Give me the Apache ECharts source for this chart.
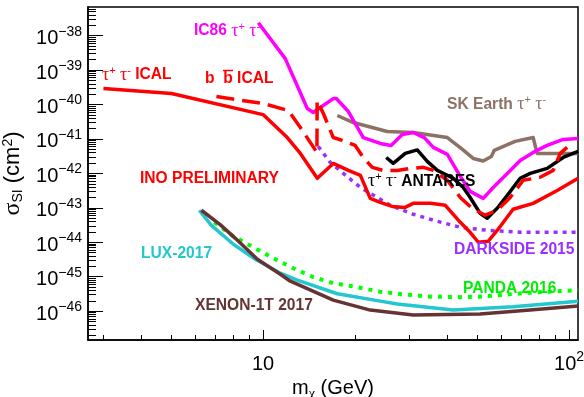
<!DOCTYPE html>
<html>
<head>
<meta charset="utf-8">
<script src="https://cdn.jsdelivr.net/npm/echarts@6/dist/echarts.min.js"></script>
<style>
  html, body { margin: 0; padding: 0; background: #fff; }
  #main { width: 584px; height: 397px; }
</style>
</head>
<body>
<div id="main"></div>
<script>
// masses in GeV, SI cross sections in cm^2
var inoTauMass  = [3.01, 5.02, 10.0, 12.0, 13.24, 15.04, 16.96, 19.0, 20.8, 22.4, 24.15, 26.4, 29.1, 30.95, 35.2, 39.4, 44.1, 47.5, 50.5, 54.4, 58.2, 65.6, 76.3, 91.4, 107];
var inoTauSigma = [2.9e-40, 2.08e-40, 5.1e-41, 1.1e-41, 3.8e-42, 7.2e-43, 1.95e-42, 1.22e-42, 8.75e-43, 1.88e-43, 1.44e-43, 1.1e-43, 1.03e-43, 1.35e-43, 1.35e-43, 1.18e-43, 3.8e-44, 1.95e-44, 1.0e-44, 1.07e-44, 2.2e-44, 9.1e-44, 1.35e-43, 3.2e-43, 7.2e-43];

var inoBbMass  = [7.04, 10.0, 12.1, 13.24, 15.0, 15.02, 15.74, 16.96, 18.15, 20.0, 21.26, 22.74, 24.7, 27.4, 30.3, 33.4, 36.0, 40.0, 44.1, 48.2, 53.2, 58.2, 64.2, 70.8, 80.4, 88.7, 93.5, 98.5];
var inoBbSigma = [1.7e-40, 1.07e-40, 6.7e-41, 2.15e-41, 4.07e-42, 1.3e-40, 5.5e-41, 1.1e-41, 9.05e-42, 6.5e-42, 2.9e-42, 1.5e-42, 1.22e-42, 1.22e-42, 1.4e-42, 1.5e-42, 1.22e-42, 6.3e-43, 2.0e-43, 9.7e-44, 6.1e-44, 8.5e-44, 2.0e-43, 6.3e-43, 7.7e-43, 1.22e-42, 3.8e-42, 5.7e-42];

var ic86Mass  = [9.65, 11.82, 13.95, 14.6, 15.39, 16.96, 17.35, 19.0, 21.26, 24.15, 26.2, 28.5, 30.95, 33.6, 36.0, 40.0, 43.7, 47.5, 52.4, 56.5, 62.8, 69.2, 76.3, 84.8, 95.6, 107];
var ic86Sigma = [2.38e-38, 2.15e-39, 7.66e-41, 5.86e-41, 8.2e-41, 1.49e-40, 1.49e-40, 6.27e-41, 1.1e-41, 7.4e-42, 6.5e-42, 1.35e-41, 1.54e-41, 1.1e-41, 5.7e-42, 3.56e-42, 9.35e-43, 3.0e-43, 1.88e-43, 3.9e-43, 1.0e-42, 2.38e-42, 4.07e-42, 6.5e-42, 9.7e-42, 1.03e-41];

var skMass  = [17.48, 19.72, 25.46, 30.95, 40.0, 44.4, 48.6, 52.4, 55.7, 56.9, 66.6, 76.3, 78.6, 107];
var skSigma = [4.8e-41, 3.0e-41, 1.65e-41, 1.54e-41, 1.1e-41, 5.3e-42, 2.72e-42, 2.3e-42, 3.1e-42, 4.65e-42, 8.5e-42, 1.1e-41, 3.8e-42, 3.8e-42];

var antaresMass  = [25.27, 26.63, 29.15, 31.9, 34.4, 37.1, 41.8, 45.1, 47.5, 51.2, 54.0, 58.2, 62.8, 69.2, 74.6, 84.8, 95.6, 107];
var antaresSigma = [2.9e-42, 1.95e-42, 3.8e-42, 4.8e-42, 2.23e-42, 1.22e-42, 7.2e-43, 3.9e-43, 2.0e-43, 6.9e-44, 5.0e-44, 9.7e-44, 2.3e-43, 7.2e-43, 1.0e-42, 1.4e-42, 2.9e-42, 4.35e-42];

var darksideMass  = [15.15, 16.58, 18.29, 20.78, 23.62, 26.04, 30.95, 37.1, 44.1, 54.0, 69.2, 107];
var darksideSigma = [6.07e-42, 2.08e-42, 1.0e-42, 3.93e-43, 2.0e-43, 1.18e-43, 6.5e-44, 4.07e-44, 2.72e-44, 2.23e-44, 1.95e-44, 1.95e-44];

var pandaMass  = [6.93, 8.0, 9.3, 10.8, 12.56, 14.6, 16.96, 20.3, 24.15, 27.45, 35.2, 44.1, 51.2, 74.6, 107];
var pandaSigma = [3.8e-44, 1.49e-44, 7.16e-45, 3.44e-45, 1.76e-45, 9.7e-46, 6.5e-46, 4.97e-46, 3.67e-46, 3.2e-46, 2.63e-46, 2.55e-46, 2.63e-46, 3.44e-46, 4.07e-46];

var luxMass  = [6.19, 6.78, 8.0, 9.44, 11.39, 12.94, 17.48, 24.15, 27.45, 41.8, 65.6, 107];
var luxSigma = [8.5e-44, 3.1e-44, 8.75e-45, 3.2e-45, 1.26e-45, 7.9e-46, 3.2e-46, 1.95e-46, 1.6e-46, 1.07e-46, 1.35e-46, 1.95e-46];

var xenonMass  = [6.29, 7.26, 8.12, 9.58, 11.39, 12.28, 16.96, 22.4, 30.95, 51.2, 74.6, 107];
var xenonSigma = [8.5e-44, 3.2e-44, 1.3e-44, 3.2e-45, 1.18e-45, 7.4e-46, 2.08e-46, 1.07e-46, 7.66e-47, 8.2e-47, 1.07e-46, 1.4e-46];

// axis ranges and decade ticks
var xRange = [2.68, 106.9];
var yRange = [1.45e-47, 6.8e-38];
var xDecades = [10, 100];
var yDecades = [1e-46, 1e-45, 1e-44, 1e-43, 1e-42, 1e-41, 1e-40, 1e-39, 1e-38];

var FONT = 'Liberation Sans';
var lg = Math.log10;

function toLog(mass, sigma) {
  return mass.map(function (m, i) { return [lg(m), lg(sigma[i])]; });
}

// minor ticks 2..9 inside each decade
function minorTicks(fromExp, toExp) {
  var out = [];
  for (var e = fromExp; e <= toExp; e++) {
    for (var k = 2; k <= 9; k++) out.push(lg(k) + e);
  }
  return out;
}

var chart = echarts.init(document.getElementById('main'), null, { renderer: 'canvas' });

var labelRich = {
  b: { fontFamily: FONT, fontSize: 20, color: '#000', padding: [6, 0, 0, 0] },
  e: { fontFamily: FONT, fontSize: 14, color: '#000', padding: [0, 0, 8, 0] }
};

function lineSeries(name, mass, sigma, color, type, width, z) {
  return {
    name: name,
    type: 'line',
    data: toLog(mass, sigma),
    showSymbol: false,
    symbol: 'none',
    silent: true,
    z: z,
    lineStyle: { color: color, width: width, type: type, cap: 'butt', join: 'round' }
  };
}

// text annotations
function labelRichStyle(color) {
  return {
    b: { fontFamily: FONT, fontWeight: 'bold', fontSize: 15.6, fill: color },
    t: { fontFamily: 'Liberation Serif', fontSize: 18, fill: color },
    s: { fontFamily: FONT, fontSize: 11, fill: color, padding: [0, 0, 9, 0] }
  };
}
function note(x, y, text, color) {
  return {
    type: 'text', x: x, y: y, z: 100,
    style: { text: text, rich: labelRichStyle(color), verticalAlign: 'middle', align: 'left', fill: color }
  };
}

var tt = '{t|\u03c4}{s|+}{b| }{t|\u03c4}{s|-}';

option = {
  animation: false,
  backgroundColor: '#fff',
  grid: {
    left: 88, top: 7, right: 6, bottom: 57,
    show: true, borderColor: '#000', borderWidth: 1.5,
    containLabel: false, outerBoundsMode: 'none'
  },
  xAxis: [
    {
      type: 'value', position: 'bottom',
      min: lg(xRange[0]), max: lg(xRange[1]),
      axisLine: { lineStyle: { color: '#000', width: 1.5 } },
      axisTick: { inside: true, length: 10, customValues: xDecades.map(lg), lineStyle: { color: '#000', width: 1 } },
      axisLabel: {
        customValues: xDecades.map(lg), margin: 8,
        formatter: function (v) { return Math.round(v) === 1 ? '{b|10}' : '{b|10}{e|' + Math.round(v) + '}'; },
        rich: labelRich
      },
      splitLine: { show: false },
      name: '{a|m}{c|\u03c7}{a| (GeV)}',
      nameLocation: 'middle', nameGap: 32,
      nameTextStyle: {
        rich: {
          a: { fontFamily: FONT, fontSize: 20, color: '#000' },
          c: { fontFamily: 'Liberation Serif', fontSize: 14, color: '#000', padding: [10, 0, 0, 0] }
        }
      }
    },
    {
      type: 'value', position: 'bottom',
      min: lg(xRange[0]), max: lg(xRange[1]),
      axisLine: { show: false },
      axisTick: { inside: true, length: 5, customValues: minorTicks(0, 1), lineStyle: { color: '#000', width: 1 } },
      axisLabel: { show: false },
      splitLine: { show: false }
    }
  ],
  yAxis: [
    {
      type: 'value', position: 'left',
      min: lg(yRange[0]), max: lg(yRange[1]),
      axisLine: { lineStyle: { color: '#000', width: 1.5 } },
      axisTick: { inside: true, length: 15, customValues: yDecades.map(lg), lineStyle: { color: '#000', width: 1 } },
      axisLabel: {
        customValues: yDecades.map(lg), margin: 6,
        formatter: function (v) { return '{b|10}{e|\u2212' + (-Math.round(v)) + '}'; },
        rich: labelRich
      },
      splitLine: { show: false },
      name: '{g|\u03c3}{sub|SI}{a| (cm}{sup|2}{a|)}',
      nameLocation: 'middle', nameGap: 58,
      nameTextStyle: {
        rich: {
          g: { fontFamily: 'Liberation Serif', fontSize: 24, color: '#000' },
          a: { fontFamily: FONT, fontSize: 22, color: '#000' },
          sub: { fontFamily: FONT, fontSize: 14, color: '#000', padding: [10, 0, 0, 0] },
          sup: { fontFamily: FONT, fontSize: 14, color: '#000', padding: [0, 0, 10, 0] }
        }
      }
    },
    {
      type: 'value', position: 'left',
      min: lg(yRange[0]), max: lg(yRange[1]),
      axisLine: { show: false },
      axisTick: { inside: true, length: 8, customValues: minorTicks(-47, -38), lineStyle: { color: '#000', width: 1 } },
      axisLabel: { show: false },
      splitLine: { show: false }
    }
  ],
  graphic: [
    note(194, 31, '{b|IC86 }' + tt, '#ff00ff'),
    note(102, 75, tt + '{b| ICAL}', '#ff0000'),
    note(205, 78.5, '{b|b  b ICAL}', '#ff0000'),
    { type: 'line', z: 100, shape: { x1: 223, y1: 70.5, x2: 233, y2: 70.5 }, style: { stroke: '#ff0000', lineWidth: 1.5 } },
    note(447, 104.5, '{b|SK Earth }' + tt, '#8c7264'),
    note(140, 178.5, '{b|INO PRELIMINARY}', '#ff0000'),
    note(368, 181.5, tt + '{b| ANTARES}', '#000000'),
    note(454, 250, '{b|DARKSIDE 2015}', '#9a30ff'),
    note(141, 254, '{b|LUX-2017}', '#22c7cf'),
    note(463, 288.3, '{b|PANDA 2016}', '#00ee00'),
    note(195, 305.5, '{b|XENON-1T 2017}', '#663333')
  ],
  series: [
    lineSeries('DARKSIDE 2015', darksideMass, darksideSigma, '#9a30ff', [4, 5], 3.5, 2),
    lineSeries('PANDA 2016', pandaMass, pandaSigma, '#00ff00', [4, 6], 4, 2),
    lineSeries('LUX-2017', luxMass, luxSigma, '#22c7cf', 'solid', 3.5, 3),
    lineSeries('XENON-1T 2017', xenonMass, xenonSigma, '#663333', 'solid', 3.5, 4),
    lineSeries('SK Earth', skMass, skSigma, '#8c7264', 'solid', 3.5, 3),
    lineSeries('IC86', ic86Mass, ic86Sigma, '#ff00ff', 'solid', 3.5, 4),
    lineSeries('ANTARES', antaresMass, antaresSigma, '#000000', 'solid', 3.5, 5),
    lineSeries('b bbar ICAL', inoBbMass, inoBbSigma, '#ff0000', [18, 8], 3.5, 6),
    lineSeries('tau tau ICAL', inoTauMass, inoTauSigma, '#ff0000', 'solid', 3.5, 6)
  ]
};

chart.setOption(option);
</script>
</body>
</html>
